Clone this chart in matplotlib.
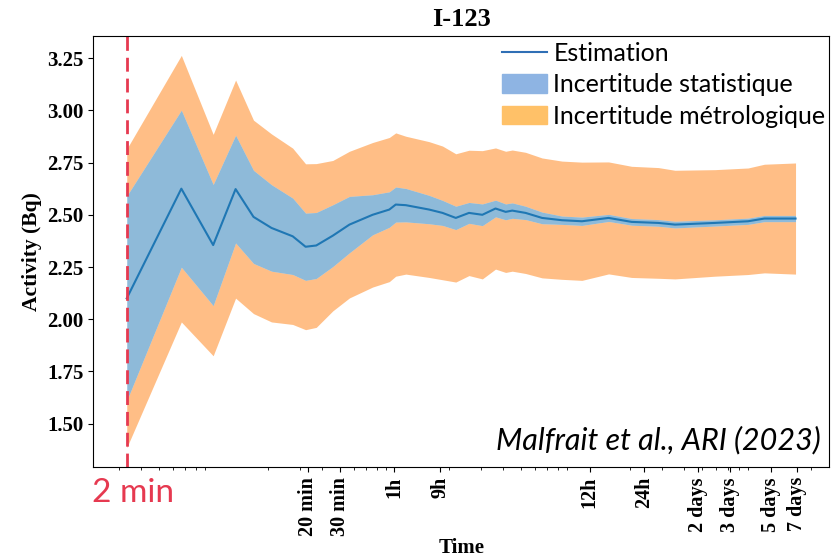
import numpy as np
import matplotlib
matplotlib.use("Agg")
import matplotlib.pyplot as plt
from matplotlib.lines import Line2D
from matplotlib.patches import Patch
from matplotlib.ticker import NullFormatter

# time in hours (log axis), estimate and half-widths of the two uncertainty bands
t_h = [0.0333, 0.0667, 0.100, 0.133, 0.167, 0.21, 0.275, 0.324, 0.371, 0.458,
       0.566, 0.76, 0.94, 1.02, 1.16, 1.56, 1.85, 2.19, 2.59, 3.07,
       3.63, 4.13, 4.49, 5.32, 6.56, 8.45, 10.9, 15.3, 20.5, 28.8,
       35.6, 59.1, 90.2, 111.0, 165.0]
estim = [2.10, 2.625, 2.355, 2.623, 2.49, 2.437, 2.397, 2.347, 2.353, 2.40,
         2.453, 2.50, 2.525, 2.549, 2.546, 2.525, 2.509, 2.485, 2.509, 2.50,
         2.53, 2.514, 2.52, 2.509, 2.485, 2.474, 2.469, 2.485, 2.466, 2.461,
         2.453, 2.461, 2.469, 2.482, 2.482]
u_stat = [0.49, 0.376, 0.29, 0.258, 0.223, 0.207, 0.183, 0.161, 0.158, 0.148,
          0.135, 0.096, 0.085, 0.084, 0.08, 0.068, 0.06, 0.056, 0.05, 0.052,
          0.04, 0.038, 0.037, 0.032, 0.028, 0.02, 0.02, 0.017, 0.016, 0.016,
          0.016, 0.015, 0.015, 0.015, 0.015]
u_metro = [0.715, 0.638, 0.53, 0.522, 0.463, 0.45, 0.422, 0.397, 0.392, 0.36,
           0.351, 0.346, 0.345, 0.343, 0.33, 0.325, 0.32, 0.307, 0.30, 0.307,
           0.29, 0.29, 0.29, 0.29, 0.287, 0.283, 0.283, 0.268, 0.266, 0.265,
           0.26, 0.255, 0.255, 0.26, 0.266]

tick_pos = [20/60, 30/60, 1, 1.8, 12, 24, 48, 72, 120, 168]
tick_lab = ["20 min", "30 min", "1h", "9h", "12h", "24h",
            "2 days", "3 days", "5 days", "7 days"]

SERIF = "Liberation Serif"
SANS = "Lato"
RED = "#e63950"

t = np.array(t_h); e = np.array(estim)
s = np.array(u_stat); m = np.array(u_metro)

fig = plt.figure(figsize=(8.36, 5.59), dpi=100)
ax = fig.add_axes([0.1116, 0.164, 0.88, 0.772])

ax.fill_between(t, e - m, e - s, color="C1", alpha=.5, lw=0)
ax.fill_between(t, e + s, e + m, color="C1", alpha=.5, lw=0)
ax.fill_between(t, e - s, e + s, color="C0", alpha=.5, lw=0)
ax.plot(t, e, color="C0", lw=1.5)
ax.axvline(2/60, color=RED, lw=2, ls=(0, (5, 2.5)))

ax.set_xscale("log")
ax.set_xticks(tick_pos)
ax.set_xticklabels(tick_lab, rotation=90, family=SERIF, fontweight="bold", fontsize=14.5)
ax.xaxis.set_minor_formatter(NullFormatter())
ax.set_yticks([1.5, 1.75, 2.0, 2.25, 2.5, 2.75, 3.0, 3.25])
ax.set_yticklabels([f"{v:.2f}" for v in ax.get_yticks()], family=SERIF,
                   fontweight="bold", fontsize=15)

ax.set_title("I-123", family=SERIF, fontweight="bold", fontsize=19, pad=7)
ax.set_ylabel("Activity (Bq)", family=SERIF, fontweight="bold", fontsize=15.5)
fig.text(462/836, 1 - 548/559, "Time", ha="center", va="center",
         family=SERIF, fontweight="bold", fontsize=15)

handles = [Line2D([], [], color="#2f6fb5", lw=1.5),
           Patch(color="#8eb4e3"), Patch(color="#ffc168")]
labels = ["Estimation", "Incertitude statistique", "Incertitude métrologique"]
ax.legend(handles, labels, loc="upper left", bbox_to_anchor=(502/836, 1 - 42/559),
          bbox_transform=fig.transFigure, frameon=False,
          prop={"family": SANS, "size": 18}, handlelength=1.8, handleheight=0.75,
          handletextpad=0.25, labelspacing=0.33, borderpad=0, borderaxespad=0)

fig.text(821/836, 1 - 440/559, "Malfrait et al., ARI (2023)", ha="right", va="center",
         family=SANS, style="italic", fontsize=22)
fig.text(92/836, 1 - 493/559, "2 min", ha="left", va="center",
         family=SANS, color=RED, fontsize=24)

fig.savefig("out.png", dpi=100)
